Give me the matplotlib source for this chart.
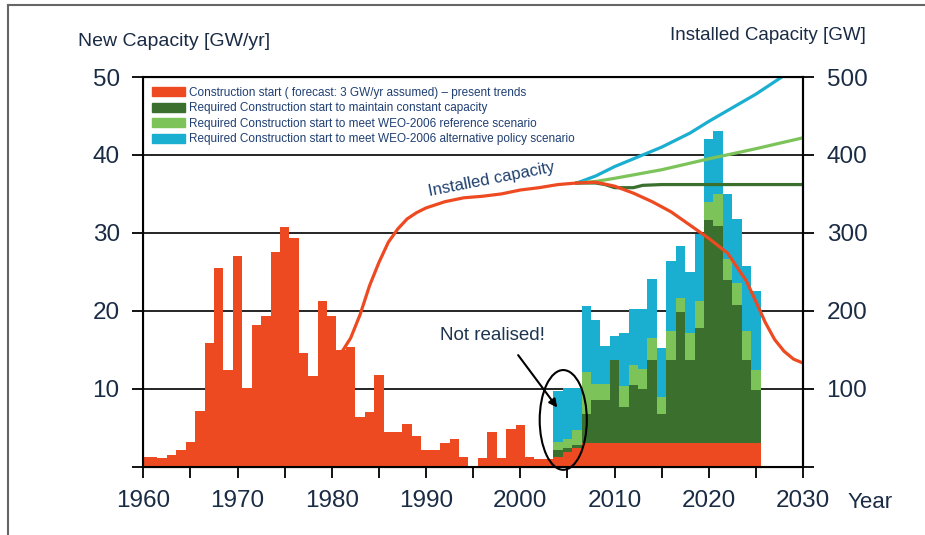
import numpy as np
import matplotlib.pyplot as plt
from matplotlib.patches import Patch, Ellipse
from matplotlib.lines import Line2D

plt.rcParams['font.family'] = ['Liberation Sans', 'DejaVu Sans']

ORANGE = '#ee4a22'
DARK_GREEN = '#3b6f2e'
LIGHT_GREEN = '#7cc35a'
CYAN = '#1aaed0'
TEXT = '#1a2b44'

# historical construction starts, GW/yr
hist_years = np.arange(1960, 2004)
hist_starts = [1.3, 1.2, 1.1, 1.5, 2.1, 3.2, 7.1, 15.9, 25.5, 12.4,
               27.0, 10.1, 18.2, 19.3, 27.5, 30.8, 29.4, 14.6, 11.6, 21.2,
               19.3, 15.0, 15.4, 6.4, 7.0, 11.8, 4.5, 4.5, 5.5, 3.9,
               2.1, 2.1, 3.0, 3.5, 1.3, 0.0, 1.1, 4.4, 1.1, 4.8,
               5.3, 1.3, 1.0, 1.0]

# forecast construction starts 2004-2025, GW/yr (stacked)
fc_years = np.arange(2004, 2026)
fc_present = [1.3, 1.9, 2.4, 3.0, 3.0, 3.0, 3.0, 3.0, 3.0, 3.0, 3.0,
              3.0, 3.0, 3.0, 3.0, 3.0, 3.0, 3.0, 3.0, 3.0, 3.0, 3.0]
fc_constant = [0.8, 0.5, 0.4, 3.8, 5.6, 5.6, 10.7, 4.7, 7.5, 7.0, 10.7,
               3.7, 10.7, 16.8, 10.7, 14.8, 28.6, 27.9, 21.0, 17.8, 10.7, 6.9]
fc_reference = [1.1, 1.2, 1.9, 5.3, 2.0, 2.0, 0.0, 2.6, 2.6, 2.5, 2.8,
                2.3, 3.7, 1.9, 3.5, 3.4, 2.4, 4.1, 2.6, 2.8, 3.7, 2.5]
fc_alternative = [6.5, 6.5, 5.4, 8.5, 8.2, 4.9, 3.1, 6.9, 7.1, 7.7, 7.6,
                  6.2, 9.0, 6.6, 7.8, 8.6, 8.0, 8.1, 8.4, 8.2, 8.3, 10.1]

# installed capacity, GW
cap_years = [1981, 1982, 1983, 1984, 1985, 1986, 1987, 1988, 1989, 1990,
             1992, 1994, 1996, 1998, 2000, 2002, 2004, 2006, 2008, 2010,
             2012, 2014, 2016, 2018, 2020, 2022, 2024, 2025, 2026, 2027,
             2028, 2029, 2030]
cap_present = [146, 165, 195, 232, 262, 288, 305, 318, 326, 332,
               340, 345, 347, 350, 355, 358, 362, 364, 365, 360,
               351, 340, 327, 310, 293, 274, 238, 212, 185, 163,
               148, 138, 133]
scen_years_alt = [2006, 2008, 2010, 2012, 2015, 2018, 2020, 2022, 2025, 2028]
cap_alternative = [364, 373, 385, 395, 410, 428, 443, 457, 478, 502]
scen_years_ref = [2006, 2008, 2010, 2015, 2020, 2025, 2030]
cap_reference = [364, 366, 370, 381, 395, 408, 422]
scen_years_const = [2006, 2008, 2009, 2010, 2012, 2013, 2015, 2030]
cap_constant = [364, 364, 362, 358, 358, 361, 362, 362]

legend_labels = [
    'Construction start ( forecast: 3 GW/yr assumed) \u2013 present trends',
    'Required Construction start to maintain constant capacity',
    'Required Construction start to meet WEO-2006 reference scenario',
    'Required Construction start to meet WEO-2006 alternative policy scenario',
]

fig = plt.figure(figsize=(9.25, 5.35), dpi=100)
ax = fig.add_axes([143.3 / 925, 1 - 466.7 / 535, 659.7 / 925, 389.7 / 535])

# bars
ax.bar(hist_years, hist_starts, width=1.0, color=ORANGE, linewidth=0, zorder=2)
bottom = np.zeros(len(fc_years))
for vals, col in [(fc_present, ORANGE), (fc_constant, DARK_GREEN),
                  (fc_reference, LIGHT_GREEN), (fc_alternative, CYAN)]:
    ax.bar(fc_years, vals, bottom=bottom, width=1.0, color=col,
           linewidth=0, zorder=2)
    bottom += np.array(vals)

ax.set_xlim(1960, 2030)
ax.set_ylim(0, 50)
ax.set_xticks(np.arange(1960, 2031, 5))
ax.set_xticklabels([str(y) if y % 10 == 0 else '' for y in range(1960, 2031, 5)])
ax.set_yticks(np.arange(0, 51, 10))
ax.set_yticklabels([''] + [str(v) for v in range(10, 51, 10)])
ax.yaxis.grid(True, color='black', linewidth=1.2, zorder=1)
ax.set_axisbelow(True)
ax.tick_params(axis='both', direction='out', length=8, width=1.3,
               labelsize=17.5, labelcolor=TEXT, pad=9)
for s in ax.spines.values():
    s.set_linewidth(1.5)

# installed capacity on the right axis
ax2 = ax.twinx()
ax2.set_zorder(ax.get_zorder() + 1)
ax2.patch.set_visible(False)
ax2.set_ylim(0, 500)
ax2.set_yticks(np.arange(0, 501, 100))
ax2.set_yticklabels([''] + [str(v) for v in range(100, 501, 100)])
ax2.tick_params(axis='y', direction='out', length=8, width=1.3,
                labelsize=17.5, labelcolor=TEXT, pad=9)
ax2.spines['right'].set_linewidth(1.5)

ax2.plot(scen_years_alt, cap_alternative, color=CYAN, lw=2.3)
ax2.plot(scen_years_ref, cap_reference, color=LIGHT_GREEN, lw=2.3)
ax2.plot(scen_years_const, cap_constant, color=DARK_GREEN, lw=2.3)
ax2.plot(cap_years, cap_present, color=ORANGE, lw=2.3)

ax2.text(1997.0, 368, 'Installed capacity', rotation=11, fontsize=12,
         color='#1d3f6e', ha='center', va='center')

# "not realised" marker
ax.text(1997.0, 16.8, 'Not realised!', fontsize=13.5, color='#1d3550',
        ha='center', va='center')
ax.annotate('', xy=(2004.1, 7.3), xytext=(1999.6, 14.6),
            arrowprops=dict(arrowstyle='-|>', color='black', lw=1.5,
                            mutation_scale=12))
ax.add_patch(Ellipse((2004.56, 6.0), 5.0, 12.8, fill=False,
                     edgecolor='black', lw=1.5, zorder=5, clip_on=False))

handles = [Patch(color=c) for c in [ORANGE, DARK_GREEN, LIGHT_GREEN, CYAN]]
ax.legend(handles, legend_labels, loc='upper left',
          bbox_to_anchor=(8.4 / 659.7, 0.975), frameon=False, fontsize=8.5,
          labelcolor='#1f3f73', handlelength=2.8, handleheight=0.8,
          handletextpad=0.4, labelspacing=0.3, borderpad=0,
          borderaxespad=0)

fig.text(78 / 925, 1 - 42 / 535, 'New Capacity [GW/yr]', fontsize=14,
         color=TEXT, ha='left', va='center')
fig.text(866 / 925, 1 - 35 / 535, 'Installed Capacity [GW]', fontsize=13.5,
         color=TEXT, ha='right', va='center')
fig.text(848 / 925, 1 - 502 / 535, 'Year', fontsize=16, color=TEXT,
         ha='left', va='center')

# outer frame
fig.add_artist(Line2D([8 / 925, 1], [1 - 5 / 535] * 2, color='#666666',
                      lw=1.5, transform=fig.transFigure))
fig.add_artist(Line2D([8 / 925] * 2, [0, 1 - 5 / 535], color='#666666',
                      lw=1.5, transform=fig.transFigure))

fig.savefig('out.png', dpi=100)
